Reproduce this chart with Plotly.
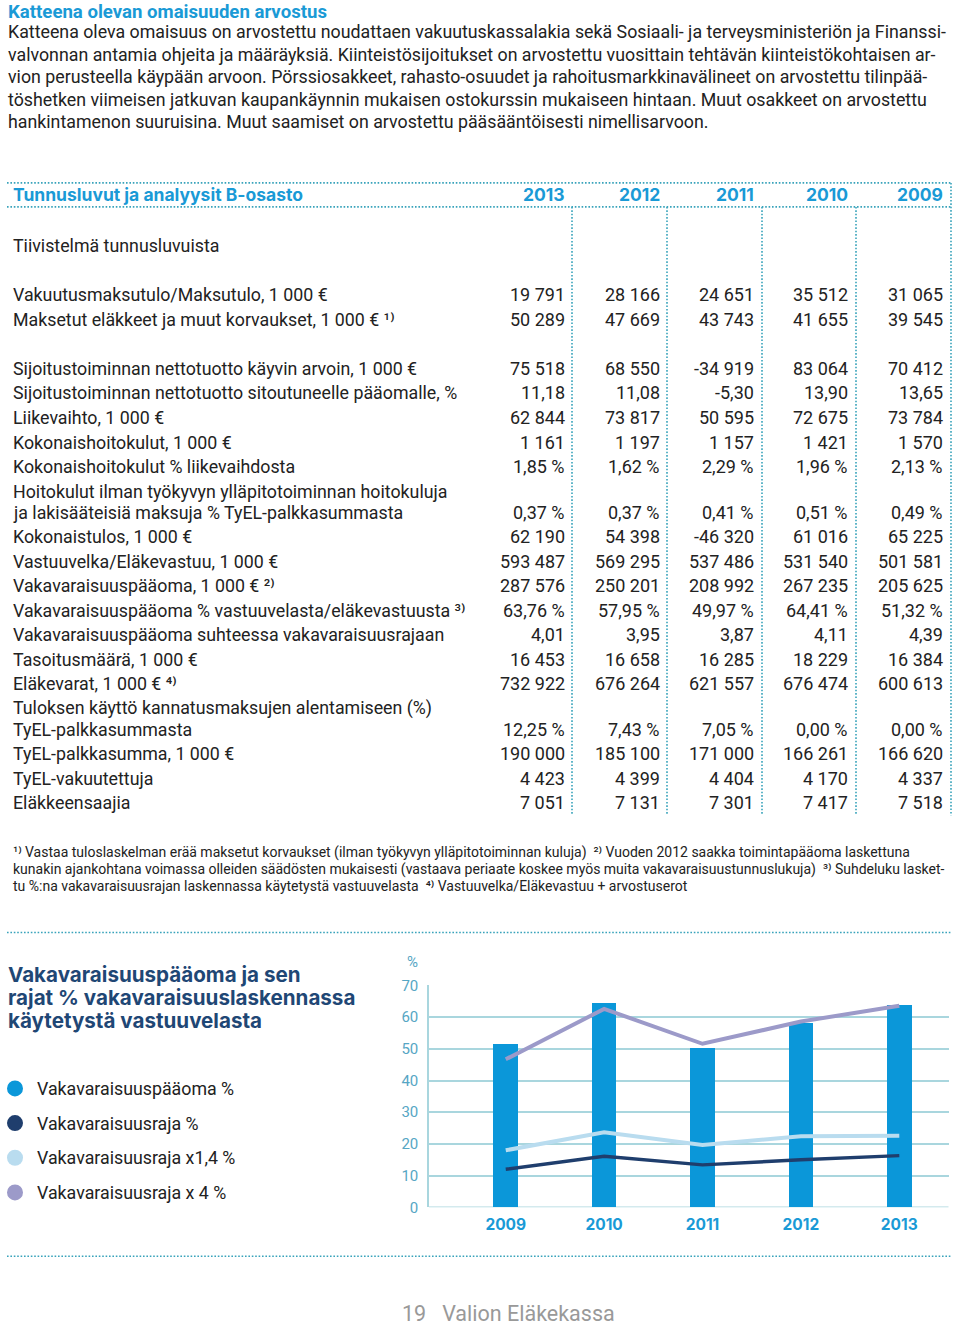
import plotly.graph_objects as go

W, H = 960, 1327

# ---------------- DATA ----------------
chart_years = ["2009", "2010", "2011", "2012", "2013"]
vakavaraisuuspaaoma_pct = [51.32, 64.41, 49.97, 57.95, 63.76]
vakavaraisuusraja_pct = [12.0, 16.1, 13.4, 15.0, 16.3]
vakavaraisuusraja_x14_pct = [18.0, 23.7, 19.7, 22.4, 22.6]
vakavaraisuusraja_x4_pct = [46.7, 62.6, 51.6, 58.6, 63.6]
y_ticks = [0, 10, 20, 30, 40, 50, 60, 70]

legend_labels = ["Vakavaraisuuspääoma %", "Vakavaraisuusraja %",
                 "Vakavaraisuusraja x1,4 %", "Vakavaraisuusraja x 4 %"]

table_years = ["2013", "2012", "2011", "2010", "2009"]
row_labels = [
    "Vakuutusmaksutulo/Maksutulo, 1 000 €",
    "Maksetut eläkkeet ja muut korvaukset, 1 000 € ¹⁾",
    "",
    "Sijoitustoiminnan nettotuotto käyvin arvoin, 1 000 €",
    "Sijoitustoiminnan nettotuotto sitoutuneelle pääomalle, %",
    "Liikevaihto, 1 000 €",
    "Kokonaishoitokulut, 1 000 €",
    "Kokonaishoitokulut % liikevaihdosta",
    "Hoitokulut ilman työkyvyn ylläpitotoiminnan hoitokuluja|ja lakisääteisiä maksuja % TyEL-palkkasummasta",
    "Kokonaistulos, 1 000 €",
    "Vastuuvelka/Eläkevastuu, 1 000 €",
    "Vakavaraisuuspääoma, 1 000 € ²⁾",
    "Vakavaraisuuspääoma % vastuuvelasta/eläkevastuusta ³⁾",
    "Vakavaraisuuspääoma suhteessa vakavaraisuusrajaan",
    "Tasoitusmäärä, 1 000 €",
    "Eläkevarat, 1 000 € ⁴⁾",
    "Tuloksen käyttö kannatusmaksujen alentamiseen (%)|TyEL-palkkasummasta",
    "TyEL-palkkasumma, 1 000 €",
    "TyEL-vakuutettuja",
    "Eläkkeensaajia",
]
values_2013 = ["19 791", "50 289", "", "75 518", "11,18", "62 844", "1 161", "1,85 %", "0,37 %",
               "62 190", "593 487", "287 576", "63,76 %", "4,01", "16 453", "732 922", "12,25 %",
               "190 000", "4 423", "7 051"]
values_2012 = ["28 166", "47 669", "", "68 550", "11,08", "73 817", "1 197", "1,62 %", "0,37 %",
               "54 398", "569 295", "250 201", "57,95 %", "3,95", "16 658", "676 264", "7,43 %",
               "185 100", "4 399", "7 131"]
values_2011 = ["24 651", "43 743", "", "-34 919", "-5,30", "50 595", "1 157", "2,29 %", "0,41 %",
               "-46 320", "537 486", "208 992", "49,97 %", "3,87", "16 285", "621 557", "7,05 %",
               "171 000", "4 404", "7 301"]
values_2010 = ["35 512", "41 655", "", "83 064", "13,90", "72 675", "1 421", "1,96 %", "0,51 %",
               "61 016", "531 540", "267 235", "64,41 %", "4,11", "18 229", "676 474", "0,00 %",
               "166 261", "4 170", "7 417"]
values_2009 = ["31 065", "39 545", "", "70 412", "13,65", "73 784", "1 570", "2,13 %", "0,49 %",
               "65 225", "501 581", "205 625", "51,32 %", "4,39", "16 384", "600 613", "0,00 %",
               "166 620", "4 337", "7 518"]
table_values = [values_2013, values_2012, values_2011, values_2010, values_2009]

section_title = "Katteena olevan omaisuuden arvostus"
paragraph_lines = [
    "Katteena oleva omaisuus on arvostettu noudattaen vakuutuskassalakia sekä Sosiaali- ja terveysministeriön ja Finanssi-",
    "valvonnan antamia ohjeita ja määräyksiä. Kiinteistösijoitukset on arvostettu vuosittain tehtävän kiinteistökohtaisen ar-",
    "vion perusteella käypään arvoon. Pörssiosakkeet, rahasto-osuudet ja rahoitusmarkkinavälineet on arvostettu tilinpää-",
    "töshetken viimeisen jatkuvan kaupankäynnin mukaisen ostokurssin mukaiseen hintaan. Muut osakkeet on arvostettu",
    "hankintamenon suuruisina. Muut saamiset on arvostettu pääsääntöisesti nimellisarvoon.",
]
table_title = "Tunnusluvut ja analyysit B-osasto"
table_subtitle = "Tiivistelmä tunnusluvuista"
footnote_lines = [
    "¹⁾ Vastaa tuloslaskelman erää maksetut korvaukset (ilman työkyvyn ylläpitotoiminnan kuluja)  ²⁾ Vuoden 2012 saakka toimintapääoma laskettuna",
    "kunakin ajankohtana voimassa olleiden säädösten mukaisesti (vastaava periaate koskee myös muita vakavaraisuustunnuslukuja)  ³⁾ Suhdeluku lasket-",
    "tu %:na vakavaraisuusrajan laskennassa käytetystä vastuuvelasta  ⁴⁾ Vastuuvelka/Eläkevastuu + arvostuserot",
]
chart_title_lines = ["Vakavaraisuuspääoma ja sen", "rajat % vakavaraisuuslaskennassa", "käytetystä vastuuvelasta"]
page_footer = "19   Valion Eläkekassa"

# ---------------- STYLE ----------------
C_BAR = "#0b97d9"
C_DARK = "#1f3e6d"
C_LIGHT = "#b9dcef"
C_PURPLE = "#9c9ac9"
C_TEAL = "#1a9ad6"
C_TITLE = "#1f4775"
C_TEXT = "#222222"
C_GRID = "#a9d6de"
C_TICK = "#56a6c4"
C_DOT = "#39a3bb"
series_colors = [C_BAR, C_DARK, C_LIGHT, C_PURPLE]

BODY = "Roboto, sans-serif"
BOLD = "Inter, Lato, sans-serif"

# vertical placement calibration (screen y -> figure y)
Y_OFF, Y_SCALE = 8.0, 0.987


def px(x):
    return x / W


def py(y):
    return 1 - ((y - Y_OFF) / Y_SCALE) / H


annotations = []
shapes = []


def ann(x, y, text, size, color, family=BODY, anchor="left", weight="normal"):
    annotations.append(dict(
        x=px(x), y=py(y), xref="paper", yref="paper", text=text, showarrow=False,
        xanchor=anchor, yanchor="middle", align="left" if anchor == "left" else anchor,
        borderpad=0,
        font=dict(family=family, size=size, color=color, weight=weight)))


def dotted(x0, y0, x1, y1):
    shapes.append(dict(type="line", xref="paper", yref="paper",
                       x0=px(x0), y0=py(y0), x1=px(x1), y1=py(y1),
                       line=dict(color=C_DOT, width=1.6, dash="1.6px,1.8px")))


# ---------------- TEXT BLOCK ----------------
ann(7, 11.5, section_title, 18.6, C_TEAL, BODY, weight="bold")
for i, line in enumerate(paragraph_lines):
    ann(7, 31 + i * 22.5, line, 17.8, C_TEXT, BODY)

# ---------------- TABLE ----------------
col_right = [566, 661, 755, 849, 944]
col_sep = [572, 667, 762, 856]
dotted(7, 182, 951, 182)
dotted(7, 206, 951, 206)
dotted(951, 182, 951, 815)
for xs in col_sep:
    dotted(xs, 206, xs, 815)

ann(12, 194, table_title, 17.5, C_TEAL, BOLD, weight="bold")
for j, yr in enumerate(table_years):
    ann(col_right[j], 194, yr, 17.5, C_TEAL, BOLD, anchor="right", weight="bold")

ann(12, 245, table_subtitle, 17.8, C_TEXT, BODY)

row_step = 24.55
sub_step = 21
y_cur = 294
for i, lab in enumerate(row_labels):
    parts = lab.split("|") if lab else []
    for k, p in enumerate(parts):
        ann(12, y_cur + k * sub_step, p, 17.8, C_TEXT, BODY)
    vy = y_cur + (len(parts) - 1) * sub_step if parts else y_cur
    for j in range(5):
        v = table_values[j][i]
        if v:
            ann(col_right[j], vy, v, 18, C_TEXT, BODY, anchor="right")
    y_cur = vy + row_step

for i, line in enumerate(footnote_lines):
    ann(12, 852 + i * 17, line, 14, C_TEXT, BODY)

dotted(7, 932, 951, 932)
dotted(7, 1256, 951, 1256)

# ---------------- CHART TEXT / LEGEND ----------------
for i, line in enumerate(chart_title_lines):
    ann(7, 974 + i * 23, line, 20.6, C_TITLE, BOLD, weight="bold")

for i, lab in enumerate(legend_labels):
    yy = 1088 + i * 34.7
    shapes.append(dict(type="circle", xref="paper", yref="paper",
                       x0=px(7), x1=px(23), y0=py(yy + 8), y1=py(yy - 8),
                       fillcolor=series_colors[i], line=dict(width=0)))
    ann(36, yy, lab, 17.8, C_TEXT, BODY)

ann(412, 962, "%", 15, C_TICK, BODY, anchor="center")
ann(509, 1313.5, page_footer, 21.5, "#999999", BODY, anchor="center")

# ---------------- CHART ----------------
fig = go.Figure()
fig.add_trace(go.Bar(x=chart_years, y=vakavaraisuuspaaoma_pct, marker=dict(color=C_BAR, line=dict(width=0)),
                     width=0.25, name=legend_labels[0], showlegend=False))
fig.add_trace(go.Scatter(x=chart_years, y=vakavaraisuusraja_pct, mode="lines",
                         line=dict(color=C_DARK, width=3.4), name=legend_labels[1], showlegend=False))
fig.add_trace(go.Scatter(x=chart_years, y=vakavaraisuusraja_x14_pct, mode="lines",
                         line=dict(color=C_LIGHT, width=4), name=legend_labels[2], showlegend=False))
fig.add_trace(go.Scatter(x=chart_years, y=vakavaraisuusraja_x4_pct, mode="lines",
                         line=dict(color=C_PURPLE, width=4), name=legend_labels[3], showlegend=False))

fig.update_layout(
    width=W, height=H,
    margin=dict(l=0, r=0, t=0, b=0),
    paper_bgcolor="white", plot_bgcolor="white",
    showlegend=False,
    xaxis=dict(domain=[px(429), px(948.5)], anchor="y", type="category",
               range=[-0.78, 4.5], showgrid=False, zeroline=False, showline=False,
               ticks="", ticklabelstandoff=6,
               tickfont=dict(family=BOLD, size=15.5, color=C_TEAL, weight="bold")),
    yaxis=dict(domain=[py(1207), py(985)], anchor="x", range=[0, 70],
               tickvals=y_ticks, showgrid=True, gridcolor=C_GRID, gridwidth=1.5,
               zeroline=False, showline=True, linecolor=C_GRID, linewidth=1.5,
               ticks="", ticklabelstandoff=6,
               tickfont=dict(family=BODY, size=15, color=C_TICK)),
    annotations=annotations,
    shapes=shapes,
    bargap=0,
)
fig.add_shape(type="line", xref="paper", yref="y", x0=px(429), x1=px(948.5), y0=0, y1=0,
              line=dict(color=C_GRID, width=1.5), layer="below")

# remove the default page margin so the 960x1327 figure fills the window exactly
fig.write_html("out.html",
               config={"displayModeBar": False},
               post_script="document.documentElement.style.margin='0';"
                           "document.body.style.margin='0';document.body.style.padding='0';"
                           "document.body.style.overflow='hidden';")
